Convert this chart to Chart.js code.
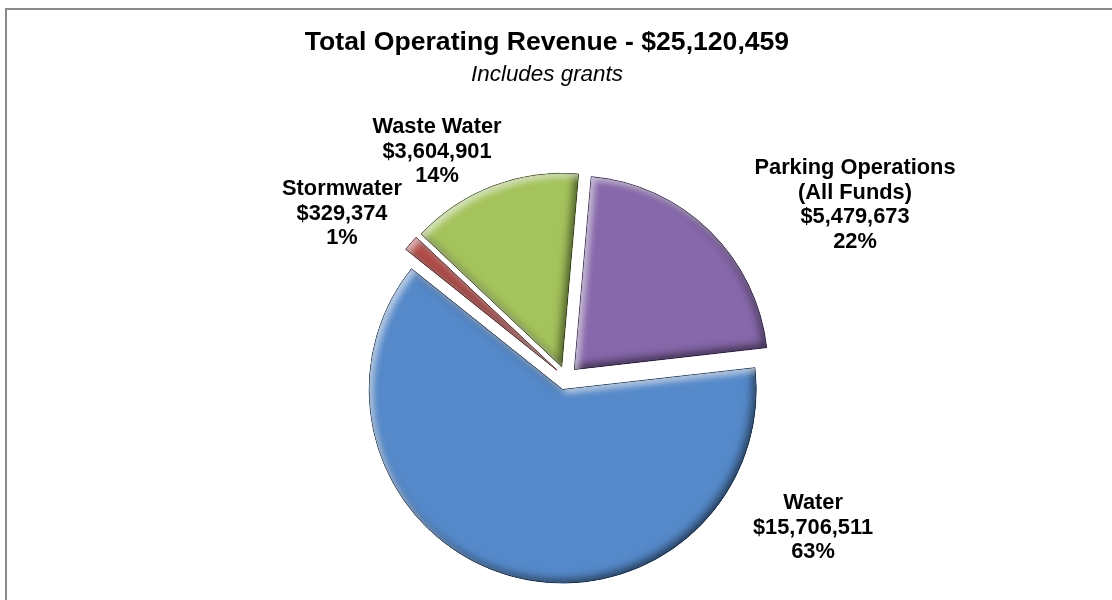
<!DOCTYPE html>
<html lang="en">
<head>
  <meta charset="UTF-8">
  <title>Total Operating Revenue</title>
  <script src="https://cdn.jsdelivr.net/npm/chart.js"></script>
  <style>
    html, body {
      margin: 0;
      padding: 0;
      background: #ffffff;
      overflow: hidden;
    }
    #frame {
      position: absolute;
      left: 5px;
      top: 8px;
      width: 1200px;
      height: 700px;
      border: 2px solid #8a8a8a;
    }
    #chart-box {
      position: absolute;
      left: 0;
      top: 0;
      width: 1112px;
      height: 600px;
    }
  </style>
</head>
<body>
  <div id="frame"></div>
  <div id="chart-box">
    <canvas id="revenue"></canvas>
  </div>

  <script>
    // Revenue by fund
    const funds = [['Parking Operations', '(All Funds)'], 'Water', 'Stormwater', 'Waste Water'];
    const revenue = [5479673, 15706511, 329374, 3604901];
    const fills = ['#8768ab', '#5589c9', '#c0504d', '#a4c35c'];
    const rims = ['#5e4480', '#36649c', '#8c302d', '#75903a'];

    const total = revenue.reduce((a, b) => a + b, 0);

    // where each slice label block sits (centre x, first line y)
    const labelPos = [[855, 168], [813, 503], [342, 189], [437, 127]];
    const EXPLODE = 12;

    const money = v => '$' + v.toLocaleString('en-US');
    const pct = v => Math.round(v / total * 100) + '%';

    function slicePath(ctx, arc) {
      ctx.moveTo(arc.x, arc.y);
      ctx.arc(arc.x, arc.y, arc.outerRadius, arc.startAngle, arc.endAngle);
      ctx.closePath();
    }

    function innerShadow(ctx, arc, color, dx, dy, blur) {
      ctx.save();
      ctx.shadowColor = color;
      ctx.shadowBlur = blur;
      ctx.shadowOffsetX = dx;
      ctx.shadowOffsetY = dy;
      ctx.beginPath();
      ctx.rect(arc.x - 1000, arc.y - 1000, 2000, 2000);
      slicePath(ctx, arc);
      ctx.fillStyle = '#000';
      ctx.fill('evenodd');
      ctx.restore();
    }

    // pull every slice out from the centre along its middle angle
    const explodePlugin = {
      id: 'explode',
      afterDatasetUpdate(chart, args) {
        args.meta.data.forEach(arc => {
          const mid = (arc.startAngle + arc.endAngle) / 2;
          arc.x += Math.cos(mid) * EXPLODE;
          arc.y += Math.sin(mid) * EXPLODE;
        });
      }
    };

    // soft bevel: dark rim on the lower right, light edge on the upper left
    const bevelPlugin = {
      id: 'bevel',
      afterDatasetsDraw(chart) {
        const ctx = chart.ctx;
        chart.getDatasetMeta(0).data.forEach(arc => {
          ctx.save();
          ctx.beginPath();
          slicePath(ctx, arc);
          ctx.clip();
          innerShadow(ctx, arc, 'rgba(0,0,0,0.6)', -3, -3, 10);
          innerShadow(ctx, arc, 'rgba(255,255,255,0.6)', 4, 4, 6);
          ctx.restore();
        });
      }
    };

    const textPlugin = {
      id: 'texts',
      afterDraw(chart) {
        const ctx = chart.ctx;
        ctx.save();
        ctx.fillStyle = '#000';
        ctx.textAlign = 'center';
        ctx.textBaseline = 'middle';

        ctx.font = 'bold 26.6px "Liberation Sans", Arial, sans-serif';
        ctx.fillText('Total Operating Revenue - ' + money(total), 547, 43);
        ctx.font = 'italic 22.4px "Liberation Sans", Arial, sans-serif';
        ctx.fillText('Includes grants', 547, 75);

        ctx.font = 'bold 21.8px "Liberation Sans", Arial, sans-serif';
        funds.forEach((name, i) => {
          const lines = [].concat(name, money(revenue[i]), pct(revenue[i]));
          const [x, y] = labelPos[i];
          lines.forEach((t, k) => ctx.fillText(t, x, y + k * 24.5));
        });
        ctx.restore();
      }
    };

    new Chart(document.getElementById('revenue'), {
      type: 'pie',
      data: {
        labels: funds,
        datasets: [{
          data: revenue,
          backgroundColor: fills,
          borderColor: rims,
          borderWidth: 1
        }]
      },
      options: {
        responsive: true,
        maintainAspectRatio: false,
        animation: false,
        rotation: 5,
        layout: {
          padding: { left: 300, right: 280, top: 184, bottom: 28 }
        },
        plugins: {
          legend: { display: false },
          title: { display: false },
          tooltip: { enabled: false }
        }
      },
      plugins: [explodePlugin, bevelPlugin, textPlugin]
    });
  </script>
</body>
</html>
